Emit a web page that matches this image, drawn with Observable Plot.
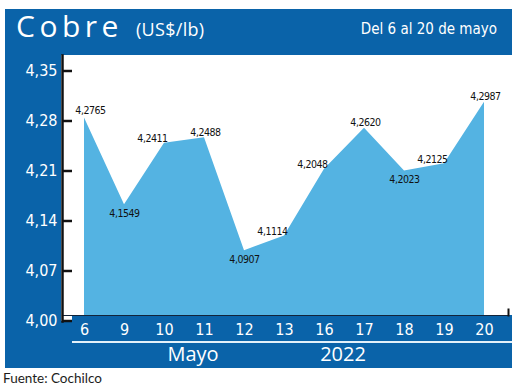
<!DOCTYPE html>
<html><head><meta charset="utf-8">
<script src="https://cdn.jsdelivr.net/npm/d3@7"></script>
<script src="https://cdn.jsdelivr.net/npm/@observablehq/plot@0.6"></script>
<style>
body{margin:0;background:#fff}
#wrap{position:relative;width:520px;height:390px;overflow:hidden;background:#fff}
.blk{position:absolute;background:#0a63a9}
.t{position:absolute;white-space:nowrap}
#chart{position:absolute;left:0;top:0}
#chart svg{background:transparent;overflow:visible}
#chart g.vlabels text{letter-spacing:-0.45px}
</style></head><body>
<div id="wrap">
 <div class="blk" style="left:5px;top:9px;width:507px;height:46px"></div>
 <div class="blk" style="left:5px;top:9px;width:56px;height:359px"></div>
 <div class="blk" style="left:61px;top:321px;width:451px;height:47px"></div>
 <div class="blk" style="left:72px;top:315px;width:440px;height:6px"></div>
 <div id="chart"></div>
 <div style="position:absolute;left:72px;top:341px;width:440px;height:2px;background:#e4f1fa"></div>
 <div class="t" id="title" style="left:16px;top:10.5px;font:30px/30px 'Open Sans';letter-spacing:4.5px;color:#fff"></div>
 <div class="t" id="unit" style="left:136px;top:19.5px;font:18px/18px 'Open Sans';letter-spacing:0.3px;color:#fff"></div>
 <div class="t" id="period" style="right:23px;top:22px;font:15px/15px 'DejaVu Sans Condensed';color:#fff"></div>
 <div class="t" id="month" style="left:143px;width:100px;text-align:center;top:344px;font:20px/20px 'Open Sans';color:#fff"></div>
 <div class="t" id="year" style="left:293px;width:100px;text-align:center;top:344px;font:20px/20px 'Open Sans';color:#fff"></div>
 <div class="t" id="source" style="left:3px;top:371px;font:13.5px/14px 'Lato';color:#1d1d1b"></div>
</div>
<script>
const titleText = "Cobre";
const unitText = "(US$/lb)";
const periodText = "Del 6 al 20 de mayo";
const monthLabel = "Mayo";
const yearLabel = "2022";
const sourceText = "Fuente: Cochilco";

const days = ["6","9","10","11","12","13","16","17","18","19","20"];
const values = [4.2765, 4.1549, 4.2411, 4.2488, 4.0907, 4.1114, 4.2048, 4.2620, 4.2023, 4.2125, 4.2987];
const yTicks = [4.00, 4.07, 4.14, 4.21, 4.28, 4.35];

document.getElementById("title").textContent = titleText;
document.getElementById("unit").textContent = unitText;
document.getElementById("period").textContent = periodText;
document.getElementById("month").textContent = monthLabel;
document.getElementById("year").textContent = yearLabel;
document.getElementById("source").textContent = sourceText;

const n = values.length;
const kindOf = (v, i) => {
  if (i === 0) return "first";
  if (i === n - 1) return "peak";
  if (v < values[i - 1] && v < values[i + 1]) return "dip";
  if (v > values[i - 1] && v > values[i + 1]) return "peak";
  return "rise";
};
const rows = days.map((d, i) => ({day: d, value: values[i], kind: kindOf(values[i], i)}));
const fmt4 = v => v.toFixed(4).replace(".", ",");
const fmt2 = v => v.toFixed(2).replace(".", ",");

const AREA = "#54b3e2";
const lbl = {x: "day", y: "value", text: d => fmt4(d.value), fontFamily: "DejaVu Sans Condensed", fontSize: 10.5, fill: "#111"};

const chart = Plot.plot({
  width: 520, height: 390,
  marginTop: 55, marginBottom: 75, marginLeft: 62, marginRight: 12,
  style: {background: "transparent", overflow: "visible"},
  x: {type: "point", domain: days, range: [81, 486], padding: 0},
  y: {domain: [4.00, 4.35], range: [315, 65]},
  marks: [
    Plot.areaY(rows, {x: "day", y1: 4.00, y2: "value", fill: AREA}),
    Plot.frame({anchor: "bottom", stroke: "#13243a", strokeWidth: 1.2}),
    Plot.frame({anchor: "right", stroke: "#111", strokeWidth: 2, insetTop: 254}),
    Plot.frame({anchor: "left", stroke: "#111", strokeWidth: 2.5, insetBottom: -6}),
    Plot.axisY({ticks: yTicks, anchor: "left", tickSize: 10, dx: 10, dy: 5.5, stroke: "#111", strokeWidth: 2.5, fill: "none", label: null}),
    Plot.axisY({ticks: yTicks, anchor: "left", tickSize: 0, tickPadding: 5, dy: 5.5, fill: "#fff", tickFormat: fmt2, fontSize: 16, fontFamily: "DejaVu Sans Condensed", label: null}),
    Plot.axisX({tickSize: 0, tickPadding: 8, fill: "#fff", fontSize: 16, fontFamily: "DejaVu Sans Condensed", label: null}),
    Plot.text(rows, {...lbl, filter: d => d.kind === "first", dx: 6, dy: -7.5}),
    Plot.text(rows, {...lbl, filter: d => d.kind === "peak", dx: 1, dy: -5.5}),
    Plot.text(rows, {...lbl, filter: d => d.kind === "dip", dx: 0, dy: 8.5}),
    Plot.text(rows, {...lbl, filter: d => d.kind === "rise", dx: -12, dy: -4.5})
  ]
});
d3.select(chart).selectAll('g[aria-label="text"]').classed("vlabels", true);
document.getElementById("chart").appendChild(chart);
</script>
</body></html>
